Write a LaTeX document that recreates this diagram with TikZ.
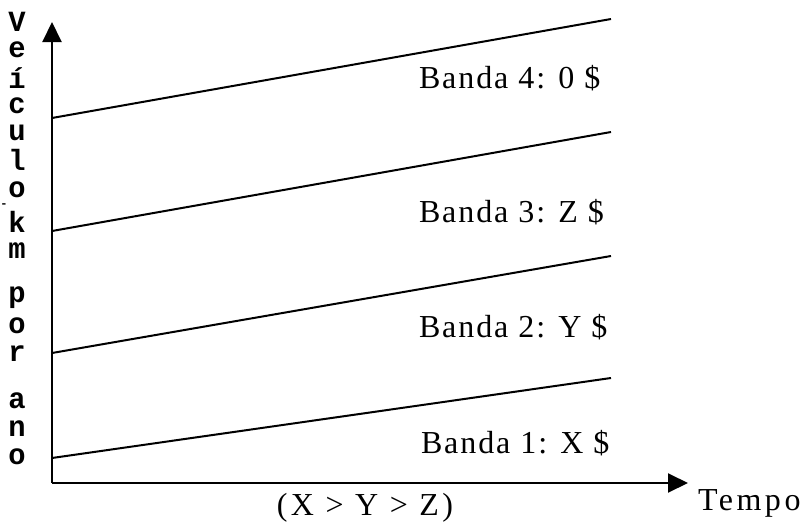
\documentclass[tikz,border=0pt]{standalone}
\usepackage{fontspec}
\setmainfont{Liberation Serif}
\newfontfamily\axisfont{Liberation Mono}
\usetikzlibrary{arrows.meta}

\begin{document}
\begin{tikzpicture}[x=1pt,y=-1pt,line width=2pt,
  axis/.style={-{Triangle[length=20pt,width=19pt]}},
  bandlabel/.style={anchor=west,inner sep=0pt,font=\fontsize{32}{36}\selectfont\addfontfeatures{LetterSpace=6}},
  vletter/.style={anchor=center,inner sep=0pt,transform shape,xscale=1.2,yscale=1.22,font=\axisfont\bfseries\fontsize{24}{24}\selectfont},
  vdash/.style={anchor=center,inner sep=0pt,font=\axisfont\bfseries\fontsize{12}{12}\selectfont}]
\path[use as bounding box] (0,0) rectangle (804,525);
% axes
\coordinate (O) at (52,483);
\coordinate (ytop) at (52,22);
\coordinate (xend) at (688,483);
\draw[axis] (O) -- (ytop);
\draw[axis] (O) -- (xend);
% band limits
\coordinate (b1l) at (52,458);  \coordinate (b1r) at (611,378);
\coordinate (b2l) at (52,353);  \coordinate (b2r) at (611,256);
\coordinate (b3l) at (52,231);  \coordinate (b3r) at (611,132);
\coordinate (b4l) at (52,118);  \coordinate (b4r) at (611,19);
\draw (b1l) -- (b1r);
\draw (b2l) -- (b2r);
\draw (b3l) -- (b3r);
\draw (b4l) -- (b4r);
% labels
\node[bandlabel] (band4) at (418,78) {Banda 4: 0 \$};
\node[bandlabel] (band3) at (418,212) {Banda 3: Z \$};
\node[bandlabel] (band2) at (418,327) {Banda 2: Y \$};
\node[bandlabel] (band1) at (420,443) {Banda 1: X \$};
\node[bandlabel,anchor=center,font=\fontsize{32}{36}\selectfont\addfontfeatures{LetterSpace=11}] (cond) at (365,508) {(X > Y > Z)};
\node[bandlabel,font=\fontsize{32}{36}\selectfont\addfontfeatures{LetterSpace=11}] (tempo) at (697,503) {Tempo};
% vertical axis title
\foreach \c/\y [count=\i] in {V/22,e/50,í/78,c/106,u/133,l/160,o/190,k/222,m/251,p/298,o/326,r/354,a/401,n/429,o/457}
  \node[vletter] (ylab\i) at (17,\y) {\c};
\node[vdash] (ylabdash) at (4,206) {-};
\end{tikzpicture}
\end{document}
